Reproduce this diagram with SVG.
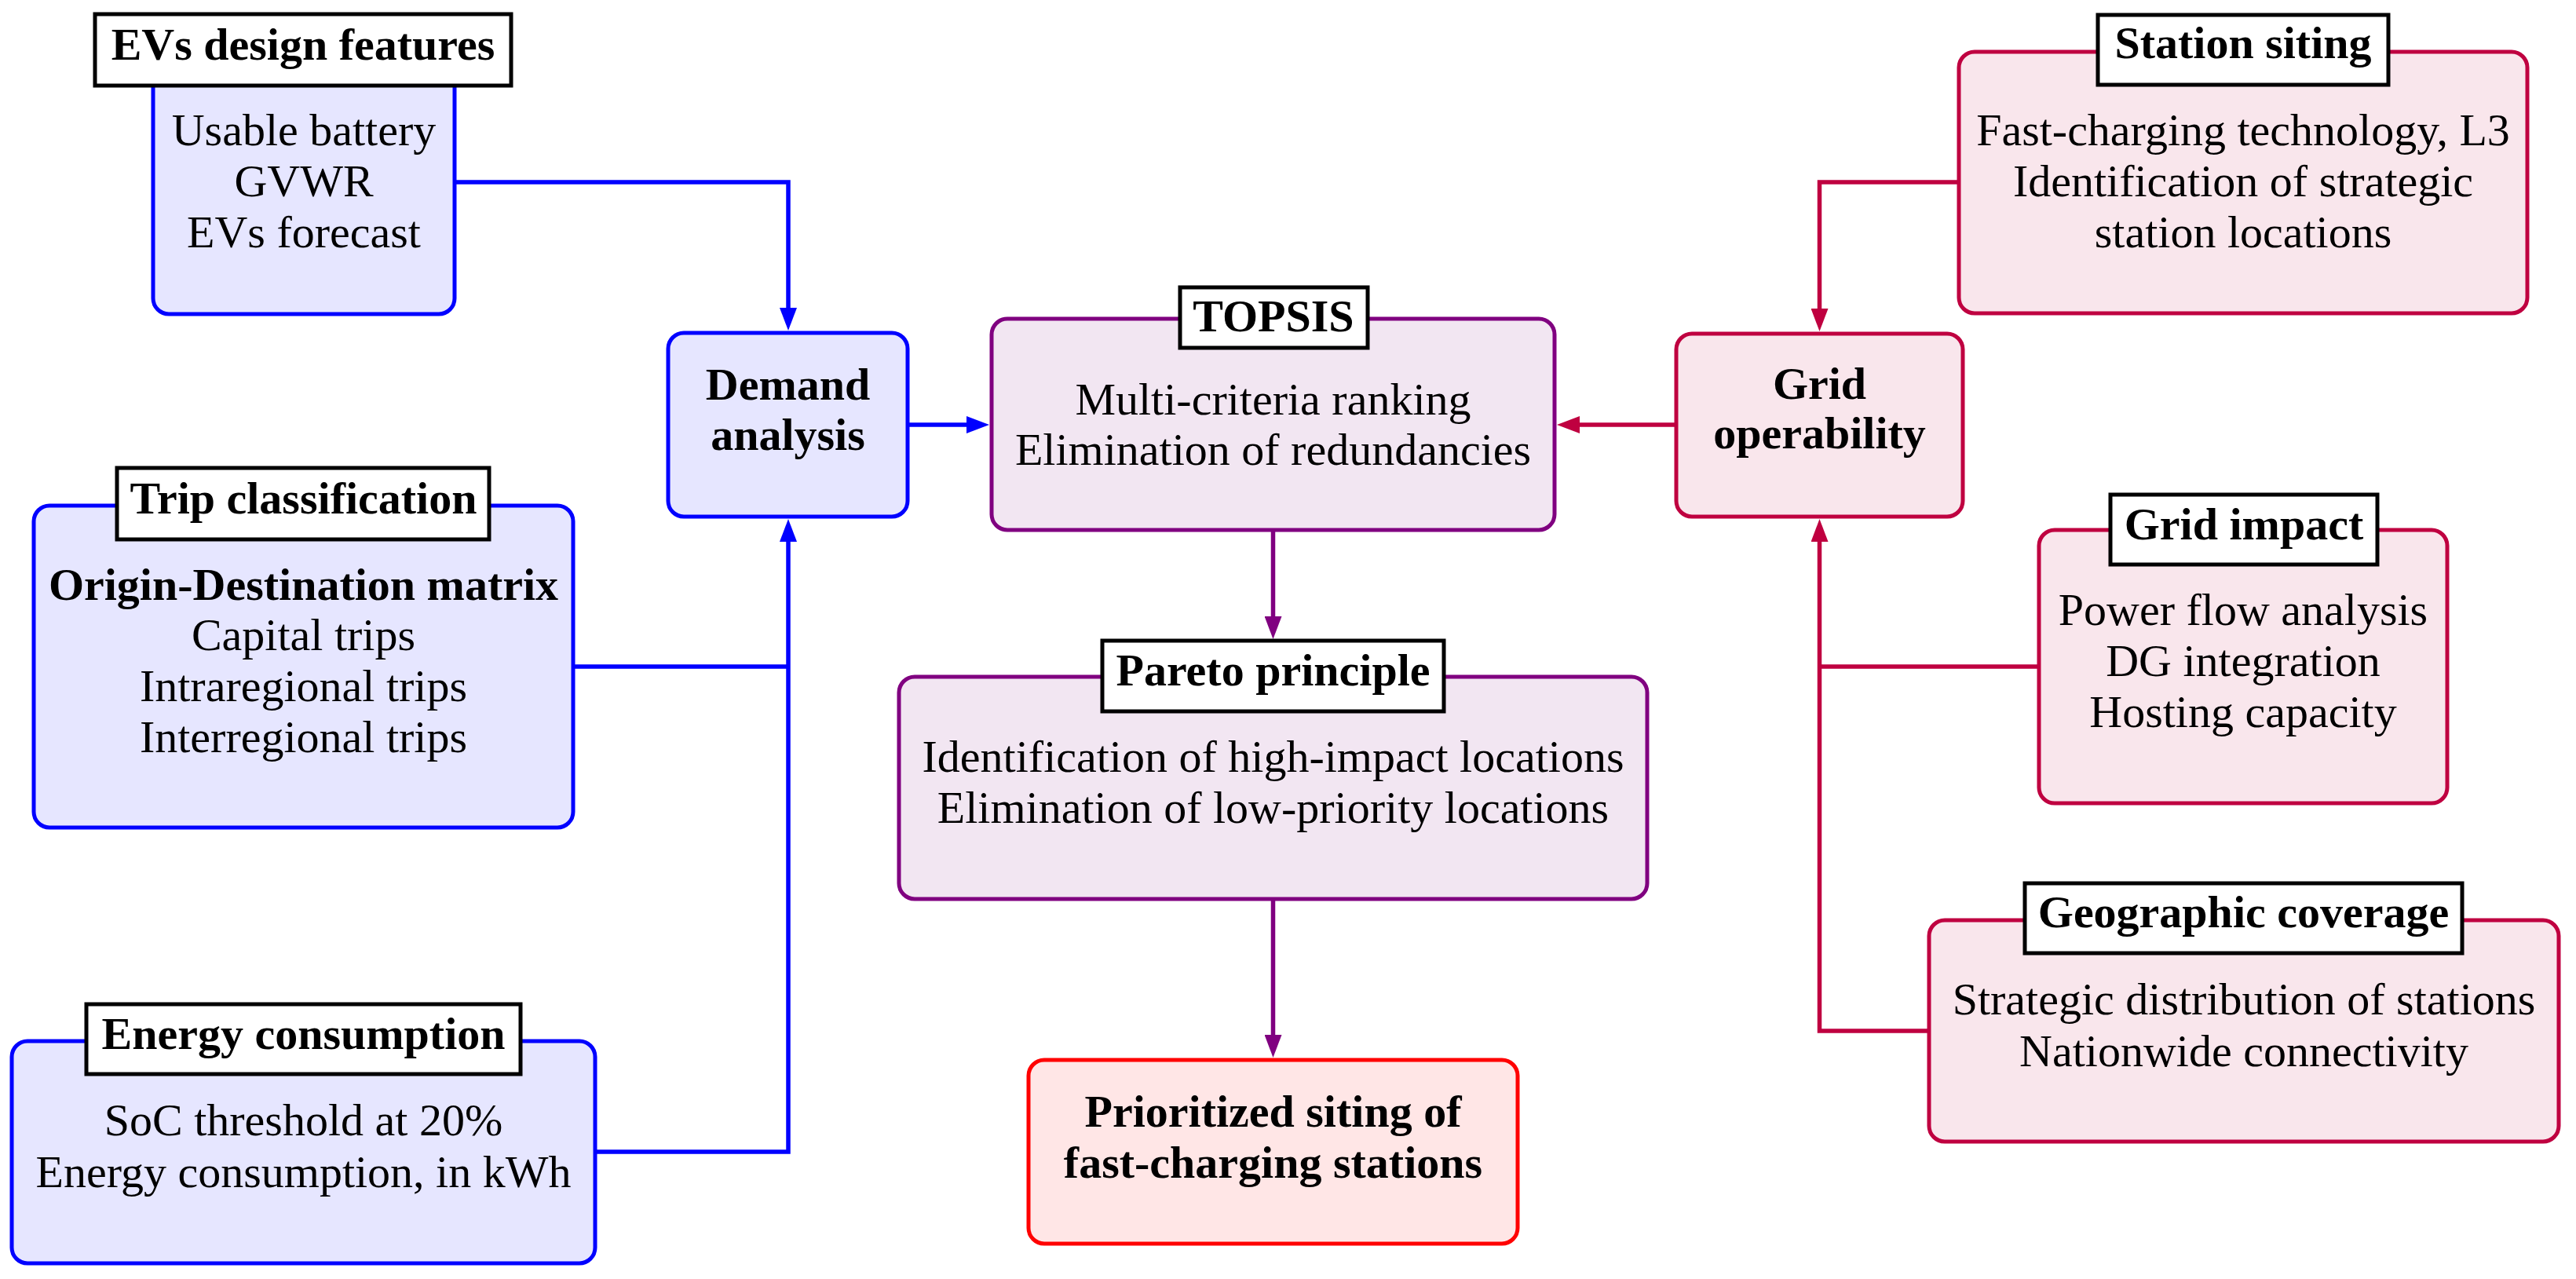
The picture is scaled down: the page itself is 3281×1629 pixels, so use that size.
<svg xmlns="http://www.w3.org/2000/svg" width="3281" height="1629" viewBox="0 0 3281 1629">
<style>
text{font-family:"Liberation Serif","Times New Roman",serif;font-size:58px;fill:#000;text-anchor:middle}
.b{font-weight:bold}
.nb{stroke:#0000FF;fill:#E6E6FF;stroke-width:5}
.nv{stroke:#800080;fill:#F2E6F2;stroke-width:5}
.nc{stroke:#BF0040;fill:#F9E6EC;stroke-width:5}
.nr{stroke:#FF0000;fill:#FFE6E6;stroke-width:5}
.t{fill:#fff;stroke:#000;stroke-width:5}
.cb{fill:none;stroke:#0000FF;stroke-width:5.5}
.cv{fill:none;stroke:#800080;stroke-width:5.5}
.cc{fill:none;stroke:#BF0040;stroke-width:5.5}
</style>
<defs>
<marker id="ab" markerUnits="userSpaceOnUse" markerWidth="29" markerHeight="22" refX="15" refY="11" orient="auto"><path d="M0,0 L29,11 L0,22 z" fill="#0000FF"/></marker>
<marker id="av" markerUnits="userSpaceOnUse" markerWidth="29" markerHeight="22" refX="15" refY="11" orient="auto"><path d="M0,0 L29,11 L0,22 z" fill="#800080"/></marker>
<marker id="ac" markerUnits="userSpaceOnUse" markerWidth="29" markerHeight="22" refX="15" refY="11" orient="auto"><path d="M0,0 L29,11 L0,22 z" fill="#BF0040"/></marker>
</defs>
<g id="connectors">
<path class="cb" d="M579,232 H1004 V407" marker-end="url(#ab)"/>
<path class="cb" d="M730,849 H1004"/>
<path class="cb" d="M758,1467 H1004 V675" marker-end="url(#ab)"/>
<path class="cb" d="M1156,541 H1246" marker-end="url(#ab)"/>
<path class="cc" d="M2135,541 H1997" marker-end="url(#ac)"/>
<path class="cv" d="M1621.5,675 V800" marker-end="url(#av)"/>
<path class="cv" d="M1621.5,1145 V1333" marker-end="url(#av)"/>
<path class="cc" d="M2495,232 H2317.5 V408" marker-end="url(#ac)"/>
<path class="cc" d="M2597,849 H2317.5"/>
<path class="cc" d="M2457,1313 H2317.5 V675" marker-end="url(#ac)"/>
</g>
<g id="ev-design">
<rect class="nb" x="195" y="64" width="384" height="336" rx="20"/>
<rect class="t" x="121" y="18" width="530" height="91"/>
<text class="b" x="386" y="76">EVs design features</text>
<text x="387" y="185">Usable battery</text>
<text x="387" y="250">GVWR</text>
<text x="387" y="315">EVs forecast</text>
</g>
<g id="trip">
<rect class="nb" x="43" y="644" width="687" height="410" rx="20"/>
<rect class="t" x="149" y="596" width="474" height="91"/>
<text class="b" x="386.5" y="654">Trip classification</text>
<text class="b" x="386.5" y="764">Origin-Destination matrix</text>
<text x="386.5" y="828">Capital trips</text>
<text x="386.5" y="893">Intraregional trips</text>
<text x="386.5" y="958">Interregional trips</text>
</g>
<g id="energy">
<rect class="nb" x="15" y="1326" width="743" height="283" rx="20"/>
<rect class="t" x="110" y="1279" width="553" height="89"/>
<text class="b" x="386.5" y="1336">Energy consumption</text>
<text x="386.5" y="1446">SoC threshold at 20%</text>
<text x="386.5" y="1512">Energy consumption, in kWh</text>
</g>
<g id="demand">
<rect class="nb" x="851" y="424" width="305" height="234" rx="20"/>
<text class="b" x="1003.5" y="509">Demand</text>
<text class="b" x="1003.5" y="573">analysis</text>
</g>
<g id="topsis">
<rect class="nv" x="1263" y="406" width="717" height="269" rx="20"/>
<rect class="t" x="1503" y="366" width="239" height="77"/>
<text class="b" x="1622" y="422">TOPSIS</text>
<text x="1621.5" y="528">Multi-criteria ranking</text>
<text x="1621.5" y="592">Elimination of redundancies</text>
</g>
<g id="pareto">
<rect class="nv" x="1145" y="862" width="953" height="283" rx="20"/>
<rect class="t" x="1404" y="816" width="435" height="90"/>
<text class="b" x="1621.5" y="873">Pareto principle</text>
<text x="1621.5" y="983">Identification of high-impact locations</text>
<text x="1621.5" y="1048">Elimination of low-priority locations</text>
</g>
<g id="prioritized">
<rect class="nr" x="1310" y="1350" width="623" height="234" rx="20"/>
<text class="b" x="1621.5" y="1435">Prioritized siting of</text>
<text class="b" x="1621.5" y="1500">fast-charging stations</text>
</g>
<g id="grid-operability">
<rect class="nc" x="2135" y="425" width="365" height="233" rx="20"/>
<text class="b" x="2317.5" y="508">Grid</text>
<text class="b" x="2317.5" y="571">operability</text>
</g>
<g id="station-siting">
<rect class="nc" x="2495" y="66" width="724" height="333" rx="20"/>
<rect class="t" x="2672" y="19" width="370" height="89"/>
<text class="b" x="2857" y="74">Station siting</text>
<text x="2857" y="185">Fast-charging technology, L3</text>
<text x="2857" y="250">Identification of strategic</text>
<text x="2857" y="315">station locations</text>
</g>
<g id="grid-impact">
<rect class="nc" x="2597" y="675" width="520" height="348" rx="20"/>
<rect class="t" x="2688" y="630" width="340" height="89"/>
<text class="b" x="2858" y="687">Grid impact</text>
<text x="2857" y="796">Power flow analysis</text>
<text x="2857" y="861">DG integration</text>
<text x="2857" y="926">Hosting capacity</text>
</g>
<g id="geographic">
<rect class="nc" x="2457" y="1172" width="802" height="282" rx="20"/>
<rect class="t" x="2579" y="1125" width="557" height="89"/>
<text class="b" x="2857.5" y="1181">Geographic coverage</text>
<text x="2858" y="1292">Strategic distribution of stations</text>
<text x="2858" y="1358">Nationwide connectivity</text>
</g>
</svg>
